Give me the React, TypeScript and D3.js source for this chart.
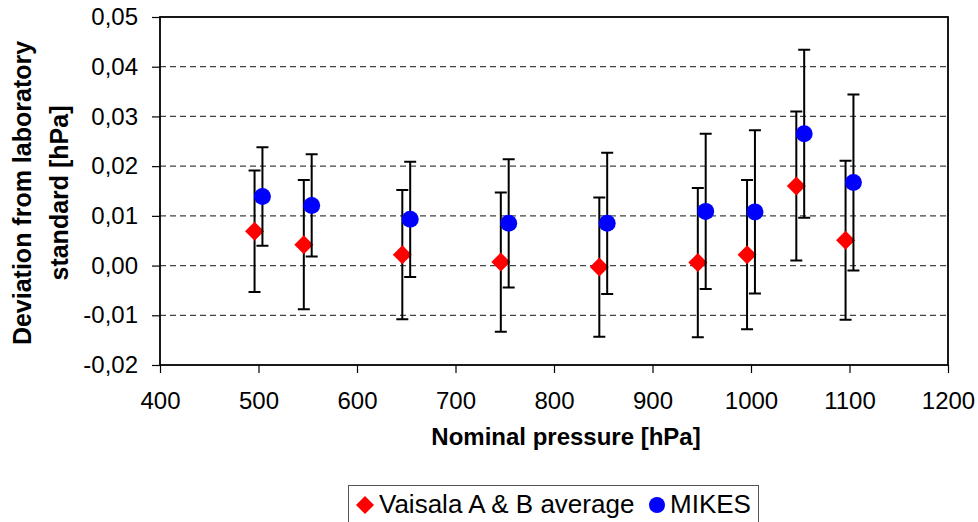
import * as d3 from "d3";
import { useEffect, useRef } from "react";

// nominal pressures [hPa]
const pressures = [500, 550, 650, 750, 850, 950, 1000, 1050, 1100];

// Vaisala A & B average: deviation and uncertainty [hPa]
const vaisalaDev = [0.0069, 0.0042, 0.0022, 0.0007, -0.0003, 0.0006, 0.0022, 0.016, 0.0051];
const vaisalaUnc = [0.0122, 0.013, 0.013, 0.014, 0.014, 0.015, 0.015, 0.015, 0.016];

// MIKES: deviation and uncertainty [hPa]
const mikesDev = [0.0139, 0.0121, 0.0093, 0.0085, 0.0085, 0.0109, 0.0108, 0.0265, 0.0167];
const mikesUnc = [0.0099, 0.0103, 0.0116, 0.0129, 0.0142, 0.0156, 0.0164, 0.0169, 0.0177];

const xTicks = [400, 500, 600, 700, 800, 900, 1000, 1100, 1200];
const yTicks = [-0.02, -0.01, 0, 0.01, 0.02, 0.03, 0.04, 0.05];

const App = () => {
    const chartRef = useRef(null);

    useEffect(() => {
        const svg = d3.select(chartRef.current);
        svg.selectAll("*").remove();

        const margin = { top: 17, left: 160, right: 30, bottom: 157 };
        const width = 978;
        const height = 522;
        const boundsW = width - margin.left - margin.right;
        const boundsH = height - margin.top - margin.bottom;
        const font = "'Liberation Sans', Arial, sans-serif";

        const x = d3.scaleLinear().domain([400, 1200]).range([margin.left, margin.left + boundsW]);
        const y = d3.scaleLinear().domain([-0.02, 0.05]).range([margin.top + boundsH, margin.top]);

        const fmt = (v) => d3.format(".2f")(v).replace(".", ",").replace("−", "-");

        // dashed gridlines
        svg.append("g")
            .selectAll("line")
            .data(yTicks.filter(t => t > -0.02 && t < 0.05))
            .enter()
            .append("line")
            .attr("x1", margin.left)
            .attr("x2", margin.left + boundsW)
            .attr("y1", d => y(d))
            .attr("y2", d => y(d))
            .attr("stroke", "#444")
            .attr("stroke-width", 1.2)
            .attr("stroke-dasharray", "6,4");

        // y axis
        const yAxis = d3.axisLeft(y).tickValues(yTicks).tickSize(8).tickFormat(fmt);
        const gy = svg.append("g")
            .attr("transform", `translate(${margin.left},0)`)
            .call(yAxis);
        gy.select(".domain").remove();
        gy.selectAll("line").attr("stroke", "#000").attr("stroke-width", 1.2);
        gy.selectAll("text")
            .attr("x", -22)
            .style("font-family", font)
            .style("font-size", "24px")
            .attr("fill", "#000");

        // x axis
        const xAxis = d3.axisBottom(x).tickValues(xTicks).tickSize(8).tickFormat(d3.format("d"));
        const gx = svg.append("g")
            .attr("transform", `translate(0,${margin.top + boundsH})`)
            .call(xAxis);
        gx.select(".domain").remove();
        gx.selectAll("line").attr("stroke", "#000").attr("stroke-width", 1.2);
        gx.selectAll("text")
            .attr("y", 27)
            .style("font-family", font)
            .style("font-size", "24px")
            .attr("fill", "#000");

        // plot frame
        svg.append("rect")
            .attr("x", margin.left)
            .attr("y", margin.top)
            .attr("width", boundsW)
            .attr("height", boundsH)
            .attr("fill", "none")
            .attr("stroke", "#000")
            .attr("stroke-width", 1.8);

        const series = [
            { dev: vaisalaDev, unc: vaisalaUnc, off: -4, kind: "diamond", color: "#ff0000" },
            { dev: mikesDev, unc: mikesUnc, off: 4, kind: "circle", color: "#0000ff" },
        ];

        series.forEach(s => {
            const data = pressures.map((p, i) => ({ p: p + s.off, v: s.dev[i], u: s.unc[i] }));
            const g = svg.append("g");
            // error bars
            g.selectAll(".eb")
                .data(data)
                .enter()
                .append("path")
                .attr("d", d => {
                    const cx = x(d.p);
                    const t = y(d.v + d.u);
                    const b = y(d.v - d.u);
                    return `M${cx},${t}V${b}M${cx - 6},${t}H${cx + 6}M${cx - 6},${b}H${cx + 6}`;
                })
                .attr("stroke", "#000")
                .attr("stroke-width", 2)
                .attr("fill", "none");
            // markers
            if (s.kind === "circle") {
                g.selectAll(".pt")
                    .data(data)
                    .enter()
                    .append("circle")
                    .attr("cx", d => x(d.p))
                    .attr("cy", d => y(d.v))
                    .attr("r", 8.5)
                    .attr("fill", s.color);
            } else {
                g.selectAll(".pt")
                    .data(data)
                    .enter()
                    .append("path")
                    .attr("d", d => {
                        const cx = x(d.p), cy = y(d.v), r = 9.5;
                        return `M${cx},${cy - r}L${cx + r},${cy}L${cx},${cy + r}L${cx - r},${cy}Z`;
                    })
                    .attr("fill", s.color);
            }
        });

        // axis titles
        svg.append("text")
            .attr("x", margin.left + boundsW / 2 + 12)
            .attr("y", 445)
            .attr("text-anchor", "middle")
            .style("font-family", font)
            .style("font-size", "24px")
            .style("font-weight", "bold")
            .text("Nominal pressure [hPa]");

        const yt = svg.append("text")
            .attr("transform", "translate(0,193) rotate(-90)")
            .attr("text-anchor", "middle")
            .style("font-family", font)
            .style("font-size", "25px")
            .style("font-weight", "bold");
        yt.append("tspan").attr("x", 0).attr("y", 31).text("Deviation from laboratory");
        yt.append("tspan").attr("x", 0).attr("y", 68).text("standard [hPa]");

        // legend
        const lg = svg.append("g");
        lg.append("rect")
            .attr("x", 348.5)
            .attr("y", 485.5)
            .attr("width", 410)
            .attr("height", 50)
            .attr("fill", "#fff")
            .attr("stroke", "#555")
            .attr("stroke-width", 1);
        lg.append("path")
            .attr("d", "M365,496L374,505L365,514L356,505Z")
            .attr("fill", "#ff0000");
        lg.append("text")
            .attr("x", 379)
            .attr("y", 513)
            .style("font-family", font)
            .style("font-size", "26px")
            .text("Vaisala A & B average");
        lg.append("circle")
            .attr("cx", 657)
            .attr("cy", 505)
            .attr("r", 8)
            .attr("fill", "#0000ff");
        lg.append("text")
            .attr("x", 670)
            .attr("y", 513)
            .style("font-family", font)
            .style("font-size", "26px")
            .text("MIKES");
    }, []);

    return (
        <svg
            ref={chartRef}
            width={978}
            height={522}
            style={{ position: "absolute", left: 0, top: 0, background: "#fff" }}
        ></svg>
    );
};

export default App;
